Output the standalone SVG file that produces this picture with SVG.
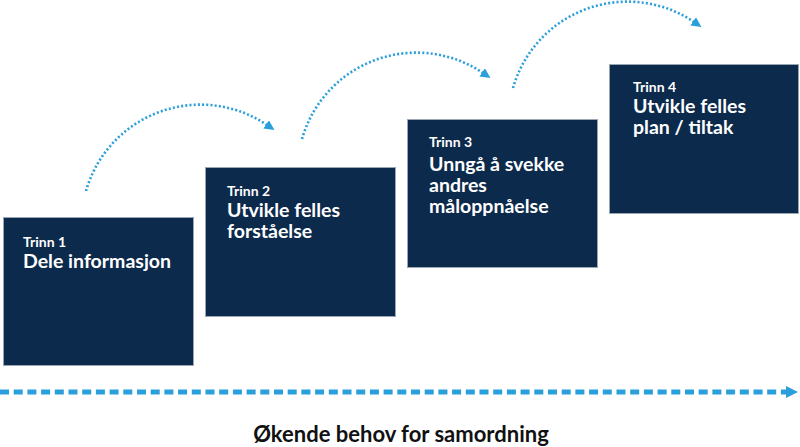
<svg xmlns="http://www.w3.org/2000/svg" width="800" height="447" viewBox="0 0 800 447">
<style>
.box{fill:#0c2a4c;stroke:#9aa6b4;stroke-width:1}
.step{font-family:Lato,"Liberation Sans",sans-serif;font-weight:bold;font-size:14px;fill:#ffffff}
.title{font-family:Lato,"Liberation Sans",sans-serif;font-weight:bold;font-size:19.5px;fill:#ffffff}
.arc{fill:none;stroke:#2a9fdb;stroke-width:2.6;stroke-dasharray:2 2.2}
.axis{fill:none;stroke:#2a9fdb;stroke-width:5;stroke-dasharray:9 4.7}
.caption{font-family:Lato,"Liberation Sans",sans-serif;font-weight:bold;font-size:22px;fill:#111111}
</style>
<defs>
<marker id="headSmall" markerUnits="userSpaceOnUse" markerWidth="12" markerHeight="12" refX="1" refY="5" orient="auto">
<path d="M0,0 L10,5 L0,10 Z" fill="#2a9fdb"/>
</marker>
<marker id="headBig" markerUnits="userSpaceOnUse" markerWidth="14" markerHeight="14" refX="0" refY="6" orient="auto">
<path d="M0,0 L12,6 L0,12 Z" fill="#2a9fdb"/>
</marker>
</defs>
<g id="connectors">
<path class="arc" d="M86,191 A119,119 0 0 1 267,125" marker-end="url(#headSmall)"/>
<path class="arc" d="M302,139 A119,119 0 0 1 483,73" marker-end="url(#headSmall)"/>
<path class="arc" d="M513,88 A119,119 0 0 1 694,22" marker-end="url(#headSmall)"/>
<path class="axis" d="M0,392 L786,392" marker-end="url(#headBig)"/>
</g>
<g id="step1">
<rect class="box" x="3.5" y="217.5" width="190" height="148"/>
<text class="step" x="23" y="247">Trinn 1</text>
<text class="title" x="23" y="268">Dele informasjon</text>
</g>
<g id="step2">
<rect class="box" x="205.5" y="167.5" width="190" height="149"/>
<text class="step" x="227" y="196">Trinn 2</text>
<text class="title" x="227" y="217">Utvikle felles</text>
<text class="title" x="227" y="238">forståelse</text>
</g>
<g id="step3">
<rect class="box" x="407.5" y="119.5" width="190" height="148"/>
<text class="step" x="429" y="147">Trinn 3</text>
<text class="title" x="429" y="171">Unngå å svekke</text>
<text class="title" x="429" y="192">andres</text>
<text class="title" x="429" y="213">måloppnåelse</text>
</g>
<g id="step4">
<rect class="box" x="609.5" y="64.5" width="189" height="149"/>
<text class="step" x="633" y="92">Trinn 4</text>
<text class="title" x="633" y="113">Utvikle felles</text>
<text class="title" x="633" y="134">plan / tiltak</text>
</g>
<g id="caption">
<text class="caption" x="401" y="442" text-anchor="middle">Økende behov for samordning</text>
</g>
</svg>
